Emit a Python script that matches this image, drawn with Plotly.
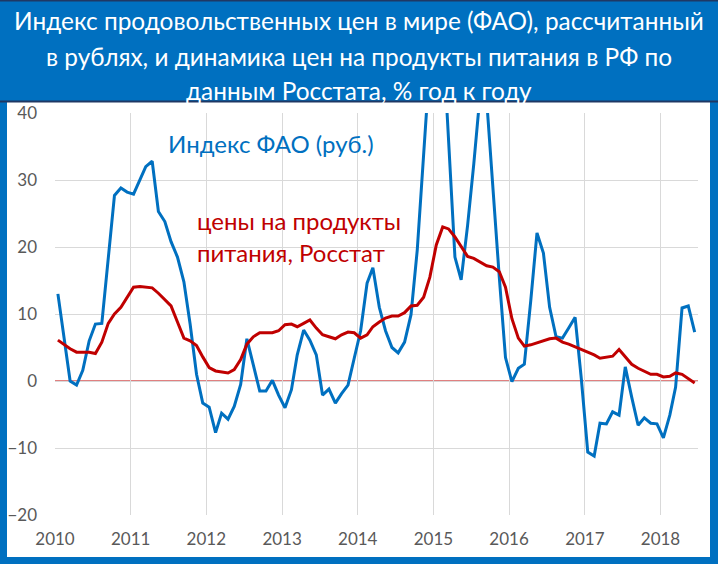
import pandas as pd
import plotly.graph_objects as go

# monthly categories Jan 2010 .. Jun 2018
months = [d.strftime("%Y-%m-15") for d in pd.date_range("2010-01-01", "2018-06-01", freq="MS")]

fao_rub = [
    13.0, 6.5, 0.0, -0.6, 1.6, 6.0, 8.5, 8.6, 18.0, 27.7, 28.8, 28.2,
    27.9, 30.2, 32.0, 32.8, 25.3, 23.8, 20.8, 18.5, 14.8, 8.5, 1.0, -3.3,
    -3.9, -7.7, -4.8, -5.7, -3.8, -0.5, 6.3, 2.4, -1.5, -1.5, 0.1, -2.1,
    -4.0, -1.3, 3.9, 7.6, 6.1, 3.9, -2.1, -1.2, -3.3, -1.9, -0.6, 3.4,
    7.5, 14.6, 16.9, 11.0, 7.5, 5.0, 4.2, 5.8, 9.9, 19.5, 34.0, 47.0,
    62.0, 52.0, 36.0, 18.5, 15.1, 23.2, 32.4, 43.0, 42.0, 28.7, 15.5, 3.5,
    -0.1, 1.9, 2.5, 12.0, 22.1, 19.1, 11.0, 6.6, 6.4, 7.9, 9.5, 0.3,
    -10.6, -11.2, -6.3, -6.4, -4.6, -5.1, 2.1, -2.4, -6.6, -5.5, -6.3, -6.4,
    -8.5, -5.1, -0.9, 10.9, 11.2, 7.3,
]

food_rosstat = [
    6.1, 5.4, 4.8, 4.3, 4.3, 4.3, 4.1, 5.8, 8.6, 10.0, 11.0, 12.5,
    14.0, 14.1, 14.0, 13.9, 13.1, 12.2, 11.2, 8.8, 6.4, 6.0, 5.3, 3.6,
    2.0, 1.5, 1.3, 1.2, 1.7, 3.2, 5.5, 6.6, 7.2, 7.2, 7.2, 7.5,
    8.4, 8.5, 8.1, 8.6, 9.1, 7.9, 6.9, 6.6, 6.3, 6.9, 7.3, 7.2,
    6.4, 6.9, 8.1, 8.8, 9.4, 9.7, 9.7, 10.2, 11.2, 11.3, 12.5, 15.5,
    20.3, 23.0, 22.7, 21.5, 20.0, 18.6, 18.3, 17.8, 17.2, 17.0, 16.3, 14.0,
    9.3, 6.4, 5.2, 5.4, 5.7, 6.1, 6.3, 6.4, 5.8, 5.5, 5.1, 4.6,
    4.3, 3.9, 3.4, 3.5, 3.7, 4.7, 3.6, 2.5, 1.9, 1.5, 1.0, 1.0,
    0.6, 0.7, 1.2, 1.0, 0.4, -0.3,
]

title_lines = [
    "Индекс продовольственных цен в мире (ФАО), рассчитанный",
    "в рублях, и динамика цен на продукты питания в РФ по",
    "данным Росстата, % год к году",
]
label_fao = "Индекс ФАО (руб.)"
label_food = ["цены на продукты", "питания, Росстат"]

BLUE = "#0070C0"
RED = "#C00000"
GRAY = "#595959"
FONT = "Lato, Open Sans, sans-serif"

W, H = 718, 564
L, R, T, B = 55, 20, 113, 49
pw, ph = W - L - R, H - T - B


def px(x):
    return (x - L) / pw


def py(y):
    return (H - B - y) / ph


fig = go.Figure()
fig.add_trace(go.Scatter(x=months, y=fao_rub, mode="lines",
                         line=dict(color=BLUE, width=3), hoverinfo="skip"))
fig.add_trace(go.Scatter(x=months, y=food_rosstat, mode="lines",
                         line=dict(color=RED, width=3), hoverinfo="skip"))

shapes = [
    dict(type="rect", xref="paper", yref="paper", x0=px(7), x1=px(710), y0=py(557), y1=py(102),
         fillcolor="white", line=dict(width=0), layer="below"),
    dict(type="line", xref="paper", yref="y", x0=0, x1=1, y0=0, y1=0,
         line=dict(color=RED, width=1), layer="below"),
    dict(type="line", xref="paper", yref="paper", x0=px(0), x1=px(718), y0=py(101.5), y1=py(101.5),
         line=dict(color="#1F3864", width=2), layer="above"),
    dict(type="line", xref="paper", yref="paper", x0=px(0), x1=px(718), y0=py(0.5), y1=py(0.5),
         line=dict(color="#1F3864", width=2), layer="above"),
]

annotations = []
for ln, yc in zip(title_lines, [21, 57, 90]):
    annotations.append(dict(text=ln, xref="paper", yref="paper", x=px(359), y=py(yc),
                            xanchor="center", yanchor="middle", showarrow=False,
                            font=dict(family=FONT, size=24.4, color="white")))
annotations.append(dict(text=label_fao, xref="paper", yref="paper", x=px(166), y=py(143),
                        xanchor="left", yanchor="middle", showarrow=False,
                        font=dict(family=FONT, size=24, color=BLUE)))
for ln, yc in zip(label_food, [220, 252]):
    annotations.append(dict(text=ln, xref="paper", yref="paper", x=px(195), y=py(yc),
                            xanchor="left", yanchor="middle", showarrow=False,
                            font=dict(family=FONT, size=24, color=RED)))

fig.update_layout(
    width=W, height=H,
    margin=dict(l=L, r=R, t=T, b=B, pad=0, autoexpand=False),
    paper_bgcolor=BLUE, plot_bgcolor="white",
    showlegend=False,
    shapes=shapes, annotations=annotations,
    font=dict(family=FONT, color=GRAY, size=17),
)
fig.update_xaxes(
    type="date", range=["2010-01-01", "2018-07-01"],
    tick0="2010-01-01", dtick="M12", tickformat="%Y",
    showgrid=True, gridcolor="#D9D9D9", gridwidth=1,
    showline=False, zeroline=False, ticks="", automargin=False,
    ticklabelstandoff=12,
    tickfont=dict(family=FONT, size=17, color=GRAY),
)
fig.update_yaxes(
    range=[-20, 40], dtick=10, tick0=0,
    showgrid=True, gridcolor="#D9D9D9", gridwidth=1,
    zeroline=False, automargin=False,
    showline=False, ticks="",
    ticklabelstandoff=17,
    tickfont=dict(family=FONT, size=17, color=GRAY),
)

fig.write_html("out.html",
               config={"displayModeBar": False, "staticPlot": True},
               post_script="document.body.style.margin='0';document.body.style.overflow='hidden';")
